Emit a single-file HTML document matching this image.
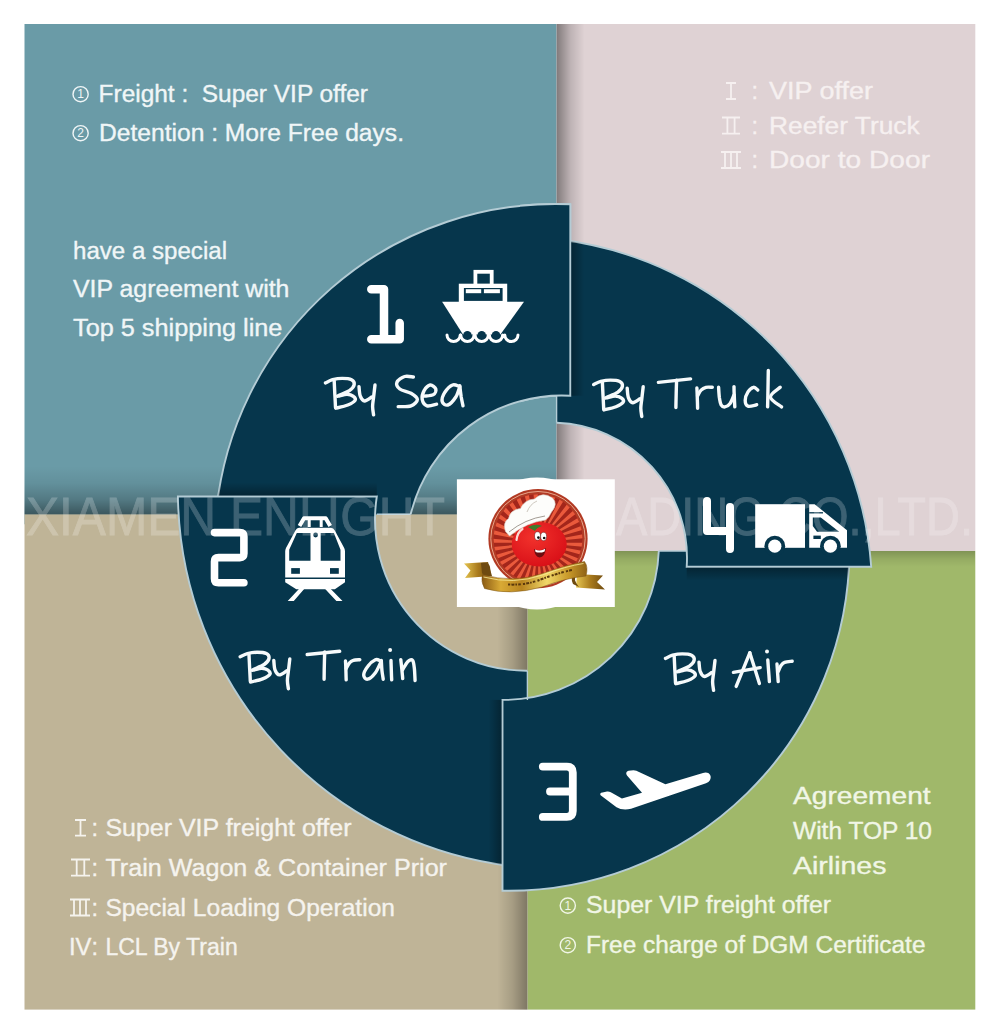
<!DOCTYPE html>
<html><head><meta charset="utf-8"><title>Shipping modes</title>
<style>
html,body{margin:0;padding:0;background:#fff;}
body{width:1000px;height:1034px;overflow:hidden;font-family:"Liberation Sans",sans-serif;}
svg{display:block;}
text{font-family:"Liberation Sans",sans-serif;}
</style></head><body>
<svg width="1000" height="1034" viewBox="0 0 1000 1034">
<defs>
<linearGradient id="shR" x1="0" x2="1" y1="0" y2="0"><stop offset="0" stop-color="#000" stop-opacity=".42"/><stop offset=".5" stop-color="#000" stop-opacity=".15"/><stop offset="1" stop-color="#000" stop-opacity="0"/></linearGradient>
<linearGradient id="shL" x1="1" x2="0" y1="0" y2="0"><stop offset="0" stop-color="#000" stop-opacity=".34"/><stop offset=".5" stop-color="#000" stop-opacity=".13"/><stop offset="1" stop-color="#000" stop-opacity="0"/></linearGradient>
<linearGradient id="shD" x1="0" x2="0" y1="0" y2="1"><stop offset="0" stop-color="#000" stop-opacity=".2"/><stop offset=".5" stop-color="#000" stop-opacity=".07"/><stop offset="1" stop-color="#000" stop-opacity="0"/></linearGradient>
<linearGradient id="shU" x1="0" x2="0" y1="1" y2="0"><stop offset="0" stop-color="#000" stop-opacity=".44"/><stop offset=".3" stop-color="#000" stop-opacity=".22"/><stop offset=".65" stop-color="#000" stop-opacity=".07"/><stop offset="1" stop-color="#000" stop-opacity="0"/></linearGradient>
<linearGradient id="tR" x1="0" x2="1" y1="0" y2="0"><stop offset="0" stop-color="#000" stop-opacity=".32"/><stop offset="1" stop-color="#000" stop-opacity="0"/></linearGradient>
<linearGradient id="tL" x1="1" x2="0" y1="0" y2="0"><stop offset="0" stop-color="#000" stop-opacity=".32"/><stop offset="1" stop-color="#000" stop-opacity="0"/></linearGradient>
<linearGradient id="tD" x1="0" x2="0" y1="0" y2="1"><stop offset="0" stop-color="#000" stop-opacity=".32"/><stop offset="1" stop-color="#000" stop-opacity="0"/></linearGradient>
<linearGradient id="tU" x1="0" x2="0" y1="1" y2="0"><stop offset="0" stop-color="#000" stop-opacity=".32"/><stop offset="1" stop-color="#000" stop-opacity="0"/></linearGradient>
<clipPath id="c1b"><rect x="520" y="0" width="70" height="470"/></clipPath>
<clipPath id="cseg3"><path d="M658.8,551.0 A154.9,154.9 0 0 1 502.5,699.9 L502.5,890.7 A341.0,341.0 0 0 0 849.4,551.0 Z"/></clipPath>
<clipPath id="cseg2"><path d="M527.4,670.7 A151.3,151.3 0 0 1 376.8,496.5 L177.9,496.5 A378.0,378.0 0 0 0 527.4,867.6 Z"/></clipPath>
<clipPath id="cseg1"><path d="M410.7,514.3 A155.4,155.4 0 0 1 570.3,395.7 L570.3,204.3 A341.2,341.2 0 0 0 216.0,514.3 Z"/></clipPath>
<clipPath id="cseg4"><path d="M556.6,422.8 A135.1,135.1 0 0 1 686.7,566.7 L871.2,566.7 A355.0,355.0 0 0 0 556.6,239.3 Z"/></clipPath>
</defs>
<rect width="1000" height="1034" fill="#fff"/>
<!-- panels -->
<rect x="24.5" y="24" width="532.1" height="500.29999999999995" fill="#6a9ba7"/>
<rect x="556.6" y="24" width="418.69999999999993" height="527.0" fill="#dfd2d4"/>
<rect x="527.4" y="551.0" width="447.9" height="458.6" fill="#a0b86a"/>
<rect x="24.5" y="514.3" width="502.9" height="495.30000000000007" fill="#bfb497"/>
<!-- shadows -->
<rect x="556.6" y="24" width="28" height="527.0" fill="url(#shR)"/>
<rect x="527.4" y="551.0" width="447.6" height="16" fill="url(#shD)"/>
<rect x="497.4" y="551.0" width="30" height="458.6" fill="url(#shL)"/>
<rect x="24.5" y="466.29999999999995" width="532.1" height="48" fill="url(#shU)"/>
<!-- segments -->
<path d="M410.7,514.3 A155.4,155.4 0 0 1 570.3,395.7 L570.3,204.3 A341.2,341.2 0 0 0 216.0,514.3" fill="#06364c" stroke="#b4ccd5" stroke-width="1.9" stroke-linejoin="miter" />
<path d="M527.4,670.7 A151.3,151.3 0 0 1 376.8,496.5 L177.9,496.5 A378.0,378.0 0 0 0 527.4,867.6" fill="#06364c" stroke="#b4ccd5" stroke-width="1.9" stroke-linejoin="miter" />
<path d="M658.8,551.0 A154.9,154.9 0 0 1 502.5,699.9 L502.5,890.7 A341.0,341.0 0 0 0 849.4,551.0" fill="#06364c" stroke="#b4ccd5" stroke-width="1.9" stroke-linejoin="miter" />
<path d="M556.6,422.8 A135.1,135.1 0 0 1 686.7,566.7 L871.2,566.7 A355.0,355.0 0 0 0 556.6,239.3" fill="#06364c" stroke="#b4ccd5" stroke-width="1.9" stroke-linejoin="miter" />
<path d="M410.7,514.3 A155.4,155.4 0 0 1 570.3,395.7 L570.3,204.3 A341.2,341.2 0 0 0 216.0,514.3" fill="#06364c" stroke="#b4ccd5" stroke-width="1.9" stroke-linejoin="miter" clip-path="url(#c1b)"/>
<rect x="686.7" y="567.7" width="184.5" height="13" fill="url(#tD)" clip-path="url(#cseg3)"/>
<rect x="571.3" y="204.3" width="13" height="191.4" fill="url(#tR)" clip-path="url(#cseg4)"/>
<rect x="177.9" y="482.5" width="198.9" height="13" fill="url(#tU)" clip-path="url(#cseg1)"/>
<rect x="488.5" y="699.9" width="13" height="190.9" fill="url(#tL)" clip-path="url(#cseg2)"/>
<path d="M556.6,395.7 V422.8 M376.8,514.3 H410.7 M527.4,670.7 V699.9 M658.8,551.0 H686.7" stroke="#b4ccd5" stroke-width="1.4" fill="none"/>
<g fill="none" stroke="#f6fafb" stroke-width="3.4" stroke-linecap="round" stroke-linejoin="round">
<path d="M334.2,381.0 C334.3,383.1 334.6,389.4 334.8,393.8 C335.1,398.2 335.4,405.1 335.5,407.4"/>
<path d="M325.4,382.9 C326.6,382.4 329.8,380.5 332.6,379.7 C335.4,379.0 339.1,378.4 342.2,378.4 C345.3,378.4 349.5,378.7 351.5,379.7 C353.5,380.7 354.5,382.7 354.2,384.5 C353.9,386.3 352.2,388.7 349.4,390.6 C346.6,392.5 337.8,395.6 337.4,396.2 C337.0,396.8 344.3,394.3 347.0,394.3 C349.7,394.3 352.1,395.3 353.4,396.4 C354.7,397.4 355.9,399.1 355.0,400.5 C354.1,402.0 351.0,403.7 347.8,405.0 C344.6,406.3 337.8,407.7 335.8,408.2"/>
<path d="M359.0,386.6 C359.2,388.2 359.3,393.8 360.3,396.2 C361.2,398.6 362.7,400.9 364.6,401.0 C366.5,401.1 370.6,397.7 371.8,397.0"/>
<path d="M375.0,385.0 C374.8,387.0 374.0,393.4 373.6,397.0 C373.2,400.6 372.6,403.6 372.6,406.6 C372.6,409.6 373.4,413.5 373.6,414.9"/>
<path d="M413.4,377.0 C411.9,376.9 407.3,375.6 404.6,376.5 C401.9,377.4 397.7,380.2 396.9,382.3 C396.1,384.4 397.5,387.2 399.8,389.0 C402.1,390.8 408.1,391.6 411.0,393.3 C413.9,395.1 417.4,397.3 417.4,399.4 C417.4,401.5 414.2,404.6 411.0,405.8 C407.8,407.0 400.3,406.5 398.2,406.6"/>
<path d="M423.8,396.2 C425.4,395.9 431.4,395.8 433.4,394.6 C435.4,393.4 436.3,390.6 435.8,389.0 C435.3,387.4 432.1,384.7 430.2,385.0 C428.3,385.3 425.5,388.2 424.1,390.6 C422.8,393.0 421.7,396.9 422.2,399.4 C422.7,401.9 424.6,405.0 427.0,405.8 C429.4,406.6 435.0,404.5 436.6,404.2"/>
<path d="M459.5,386.6 C458.3,386.3 455.0,384.1 452.6,385.0 C450.2,385.9 446.7,389.5 444.9,392.2 C443.2,394.9 441.7,399.3 442.2,401.5 C442.7,403.6 445.5,405.7 447.8,405.0 C450.1,404.3 453.8,400.1 455.8,397.0 C457.8,393.9 459.1,388.3 459.8,386.6"/>
<path d="M459.8,385.8 C460.0,387.7 460.7,393.7 461.2,397.0 C461.8,400.3 462.7,404.3 463.0,405.8"/>
<path d="M602.4,382.7 C602.5,384.8 602.8,391.1 603.0,395.5 C603.3,399.9 603.6,406.8 603.7,409.1"/>
<path d="M593.6,384.6 C594.8,384.1 598.0,382.2 600.8,381.4 C603.6,380.7 607.3,380.1 610.4,380.1 C613.5,380.1 617.7,380.4 619.7,381.4 C621.7,382.4 622.7,384.4 622.4,386.2 C622.1,388.0 620.4,390.4 617.6,392.3 C614.8,394.2 606.0,397.3 605.6,397.9 C605.2,398.5 612.5,396.0 615.2,396.0 C617.9,396.0 620.3,397.0 621.6,398.1 C622.9,399.1 624.1,400.8 623.2,402.2 C622.3,403.7 619.2,405.4 616.0,406.7 C612.8,408.0 606.0,409.4 604.0,409.9"/>
<path d="M627.2,388.3 C627.4,389.9 627.5,395.5 628.5,397.9 C629.4,400.3 630.9,402.6 632.8,402.7 C634.7,402.8 638.8,399.4 640.0,398.7"/>
<path d="M643.2,386.7 C643.0,388.7 642.2,395.1 641.8,398.7 C641.4,402.3 640.8,405.3 640.8,408.3 C640.8,411.3 641.6,415.2 641.8,416.6"/>
<path d="M658.4,382.4 L690.6,378.9"/>
<path d="M676.6,380.3 C676.5,382.5 676.3,389.0 676.2,393.6 C676.1,398.1 675.9,405.3 675.9,407.6"/>
<path d="M696.9,388.0 C697.0,389.6 697.2,394.4 697.3,397.8 C697.4,401.2 697.6,406.5 697.6,408.3"/>
<path d="M697.6,395.7 C698.2,394.8 699.7,391.5 701.1,390.1 C702.5,388.7 704.1,387.8 706.0,387.3 C707.9,386.8 711.2,387.3 712.3,387.3"/>
<path d="M718.6,387.3 C718.7,389.0 719.0,394.9 719.4,397.8 C719.9,400.7 720.2,403.3 721.1,404.8 C722.0,406.3 723.4,407.1 724.9,406.9 C726.4,406.7 728.6,405.4 730.1,403.4 C731.6,401.4 733.3,396.4 734.0,395.0"/>
<path d="M734.0,386.6 C734.0,388.2 734.1,393.0 734.3,396.4 C734.4,399.8 734.7,405.1 734.8,406.9"/>
<path d="M757.8,390.1 C757.1,389.6 755.2,387.0 753.6,387.3 C752.0,387.6 749.4,389.7 748.0,391.9 C746.6,394.1 745.2,397.9 745.2,400.3 C745.2,402.7 746.1,405.5 748.0,406.2 C749.9,406.9 755.2,405.0 756.7,404.8"/>
<path d="M768.3,370.5 C768.3,373.4 768.1,381.9 768.0,388.0 C767.9,394.1 767.7,403.7 767.6,406.9"/>
<path d="M780.2,387.3 C778.6,388.9 770.2,393.8 770.4,397.1 C770.6,400.4 779.7,405.3 781.6,406.9"/>
<path d="M249.0,654.9 C249.1,657.0 249.4,663.3 249.6,667.7 C249.9,672.1 250.2,679.0 250.3,681.3"/>
<path d="M240.2,656.8 C241.4,656.3 244.6,654.4 247.4,653.6 C250.2,652.9 253.9,652.3 257.0,652.3 C260.1,652.3 264.3,652.6 266.3,653.6 C268.3,654.6 269.3,656.6 269.0,658.4 C268.7,660.2 267.0,662.6 264.2,664.5 C261.4,666.4 252.6,669.5 252.2,670.1 C251.8,670.7 259.1,668.2 261.8,668.2 C264.5,668.2 266.9,669.2 268.2,670.3 C269.5,671.3 270.7,673.0 269.8,674.4 C268.9,675.9 265.8,677.6 262.6,678.9 C259.4,680.2 252.6,681.6 250.6,682.1"/>
<path d="M273.8,660.5 C274.0,662.1 274.1,667.7 275.1,670.1 C276.0,672.5 277.5,674.8 279.4,674.9 C281.3,675.0 285.4,671.6 286.6,670.9"/>
<path d="M289.8,658.9 C289.6,660.9 288.8,667.3 288.4,670.9 C288.0,674.5 287.4,677.5 287.4,680.5 C287.4,683.5 288.2,687.4 288.4,688.8"/>
<path d="M307.2,654.5 L339.7,651.3"/>
<path d="M324.7,651.9 C324.6,654.3 324.4,661.7 324.3,666.2 C324.2,670.8 324.1,677.0 324.1,679.2"/>
<path d="M345.5,661.0 C345.6,662.5 345.8,667.0 345.9,670.1 C346.0,673.2 346.1,678.2 346.2,679.9"/>
<path d="M346.2,668.5 C346.7,667.6 348.2,664.3 349.4,663.0 C350.6,661.6 351.6,660.9 353.3,660.4 C355.0,659.8 358.7,659.8 359.8,659.7"/>
<path d="M380.6,661.0 C379.7,660.8 377.5,658.8 375.4,659.7 C373.3,660.6 369.8,663.6 367.9,666.2 C365.9,668.8 363.7,672.9 363.7,675.0 C363.7,677.2 365.7,679.6 367.6,679.2 C369.6,678.8 373.1,675.7 375.4,672.7 C377.7,669.7 380.3,663.0 381.3,661.0"/>
<path d="M381.3,660.4 C381.4,662.0 381.6,667.0 381.9,670.1 C382.2,673.2 383.0,677.7 383.2,679.2"/>
<path d="M391.0,660.4 C391.0,662.0 391.2,666.9 391.3,670.1 C391.4,673.4 391.6,678.2 391.7,679.9"/>
<path d="M400.8,659.7 C400.9,661.2 401.5,665.7 401.8,668.8 C402.1,671.9 402.6,676.9 402.7,678.6"/>
<path d="M402.7,669.5 C403.6,668.1 406.3,662.9 407.9,661.4 C409.6,659.9 411.5,659.1 412.6,660.4 C413.7,661.6 414.0,665.4 414.4,668.8 C414.8,672.2 414.9,678.6 415.1,680.5"/>
<path d="M674.2,656.5 C674.3,658.6 674.6,664.9 674.8,669.3 C675.1,673.7 675.4,680.6 675.5,682.9"/>
<path d="M665.4,658.4 C666.6,657.9 669.8,656.0 672.6,655.2 C675.4,654.5 679.1,653.9 682.2,653.9 C685.3,653.9 689.5,654.2 691.5,655.2 C693.5,656.2 694.5,658.2 694.2,660.0 C693.9,661.8 692.2,664.2 689.4,666.1 C686.6,668.0 677.8,671.1 677.4,671.7 C677.0,672.3 684.3,669.8 687.0,669.8 C689.7,669.8 692.1,670.8 693.4,671.9 C694.7,672.9 695.9,674.6 695.0,676.0 C694.1,677.5 691.0,679.2 687.8,680.5 C684.6,681.8 677.8,683.2 675.8,683.7"/>
<path d="M699.0,662.1 C699.2,663.7 699.3,669.3 700.3,671.7 C701.2,674.1 702.7,676.4 704.6,676.5 C706.5,676.6 710.6,673.2 711.8,672.5"/>
<path d="M715.0,660.5 C714.8,662.5 714.0,668.9 713.6,672.5 C713.2,676.1 712.6,679.1 712.6,682.1 C712.6,685.1 713.4,689.0 713.6,690.4"/>
<path d="M749.8,652.8 C748.7,655.6 745.3,664.0 743.0,669.6 C740.7,675.2 737.3,683.6 736.2,686.4"/>
<path d="M749.8,652.8 C750.6,655.3 753.0,662.9 754.6,668.0 C756.2,673.1 758.6,681.0 759.4,683.6"/>
<path d="M733.4,672.4 L760.2,667.6"/>
<path d="M767.8,660.0 C767.9,661.8 768.3,667.2 768.6,670.8 C768.9,674.4 769.3,679.8 769.4,681.6"/>
<path d="M777.0,664.0 C777.1,665.5 777.4,669.9 777.6,672.8 C777.8,675.7 778.1,680.1 778.2,681.6"/>
<path d="M778.2,671.6 C778.7,670.6 779.9,667.1 781.0,665.6 C782.1,664.1 782.7,663.1 784.6,662.4 C786.5,661.7 790.9,661.4 792.2,661.2"/>
</g>
<circle cx="390.1" cy="650.0" r="2" fill="#f6fafb"/>
<circle cx="767.0" cy="651.6" r="2" fill="#f6fafb"/>
<g fill="none" stroke="#fff" stroke-linecap="round" stroke-linejoin="round">
<path d="M371.3,289.3 H384 V339.3 M371.3,339.3 H399.7 V323" stroke-width="8.5"/>
<path d="M214.5,532.6 H239.9 Q243.9,532.6 243.9,536.6 V553.6 Q243.9,557.6 239.9,557.6 H218.5 Q214.5,557.6 214.5,561.6 V578.7 Q214.5,582.7 218.5,582.7 H243.9" stroke-width="7.6"/>
<path d="M542.8,766.6 H566.8 Q572.8,766.6 572.8,772.6 V810.9 Q572.8,816.9 566.8,816.9 H542.8 M550,791.5 H572.8" stroke-width="7.8"/>
<path d="M707,501 V531 H730 M730,507 V549" stroke-width="8"/>
</g>
<g>
<rect x="475.4" y="271.8" width="16.3" height="14" fill="none" stroke="#fff" stroke-width="3.8"/>
<rect x="458.8" y="283.7" width="48.4" height="18.5" fill="#fff"/>
<rect x="463.9" y="288" width="38.7" height="12.9" fill="#06364c"/>
<rect x="465.8" y="289.2" width="15.4" height="4" fill="#fff"/><rect x="483.9" y="289.2" width="16" height="4" fill="#fff"/>
<path d="M442.1,301.8 H524 L500.4,334.5 H463 Z" fill="#fff"/>
<circle cx="453.65" cy="335.2" r="4.2" fill="#06364c"/>
<circle cx="467.4" cy="335.2" r="4.2" fill="#06364c"/>
<circle cx="481.7" cy="335.2" r="4.2" fill="#06364c"/>
<circle cx="496" cy="335.2" r="4.2" fill="#06364c"/>
<circle cx="511.4" cy="335.2" r="4.2" fill="#06364c"/>
<path d="M447.0,335 a6.2,6.2 0 0 0 13.2,0 M460.8,335 a6.2,6.2 0 0 0 13.2,0 M475.1,335 a6.2,6.2 0 0 0 13.2,0 M489.4,335 a6.2,6.2 0 0 0 13.2,0 M504.8,335 a6.2,6.2 0 0 0 13.2,0 " fill="none" stroke="#fff" stroke-width="3" stroke-linecap="round"/>
</g>
<g>
<path d="M299.5,526 L304,518.2 H325.7 L330.2,526" fill="none" stroke="#fff" stroke-width="4" stroke-linejoin="round"/>
<path d="M309.2,519 V527 M321.2,519 V527" stroke="#fff" stroke-width="3" fill="none"/>
<path d="M299,527.8 H330.7 Q333.5,527.8 334.8,530.5 L344.2,548 Q345,549.5 345,551.5 V577.6 H285.2 V551.5 Q285.2,549.5 286,548 L295.4,530.5 Q296.7,527.8 299,527.8 Z" fill="#fff"/>
<path d="M296.8,532.9 H310.5 V560.8 H289.2 V549.7 Z M320.7,532.9 H333.9 L340.5,549.7 V560.8 H320.7 Z" fill="#06364c"/>
<circle cx="315.6" cy="535" r="2.4" fill="#06364c"/>
<rect x="291.2" y="568.1" width="8.7" height="5.7" fill="#06364c"/><rect x="330" y="568.1" width="8.8" height="5.7" fill="#06364c"/>
<path d="M285.2,578.9 H345 V582.2 L334.9,589.3 H296.3 L285.2,582.2 Z" fill="#fff"/>
<path d="M299.4,588.5 H304.6 L293.8,600.9 H287.7 Z M324.7,588.5 H330.3 L342.5,600.9 H336.4 Z" fill="#fff"/>
</g>
<path d="M600.6,795.3 Q599.2,793 602.5,792.6 L607,791.5 Q609,791.2 610.8,792.3 L621.9,798.6 L642,792.7 L627,775.5 Q624.8,772.2 628.5,770.8 L633.5,770.3 Q636.5,770.3 639,772 L665.4,784.3 L703,772.9 Q709,771.6 710.6,776 Q711.6,780.8 706,783.3 L631,808.8 Q622,810.5 616.5,807.2 Z" fill="#fff"/>
<g>
<rect x="755.2" y="504.2" width="49.8" height="43.6" fill="#fff"/>
<path d="M809.2,504.2 H814.6 L847,530.2 V547.8 H809.2 Z" fill="#fff"/>
<path d="M809.2,512.8 H823" stroke="#06364c" stroke-width="1.3"/>
<path d="M812.8,517.4 H820.8 L839.2,531.8 H817 L812.8,526 Z" fill="#06364c"/>
<rect x="813.4" y="535.6" width="7.4" height="3.4" fill="#06364c"/>
<circle cx="774.8" cy="546.2" r="10.4" fill="#06364c"/>
<circle cx="830.4" cy="546.2" r="10.4" fill="#06364c"/>
<circle cx="774.8" cy="546.2" r="6.6" fill="#fff"/>
<circle cx="830.4" cy="546.2" r="6.6" fill="#fff"/>
</g>
<circle cx="80.6" cy="94.2" r="7.6" fill="none" stroke="#f0f6f7" stroke-width="1.4"/>
<text x="80.6" y="98.4" font-size="12" text-anchor="middle" fill="#f0f6f7">1</text>
<text x="98.6" y="101.8" font-size="23.5" fill="#f0f6f7" stroke="#f0f6f7" stroke-width=".35" textLength="269.4" lengthAdjust="spacingAndGlyphs"  xml:space="preserve">Freight :  Super VIP offer</text>
<circle cx="80.6" cy="133.2" r="7.6" fill="none" stroke="#f0f6f7" stroke-width="1.4"/>
<text x="80.6" y="137.39999999999998" font-size="12" text-anchor="middle" fill="#f0f6f7">2</text>
<text x="99" y="141" font-size="23.5" fill="#f0f6f7" stroke="#f0f6f7" stroke-width=".35" textLength="305.0" lengthAdjust="spacingAndGlyphs"  xml:space="preserve">Detention : More Free days.</text>
<text x="73" y="258.6" font-size="23.5" fill="#f0f6f7" stroke="#f0f6f7" stroke-width=".35" textLength="154.0" lengthAdjust="spacingAndGlyphs"  xml:space="preserve">have a special</text>
<text x="73" y="297" font-size="23.5" fill="#f0f6f7" stroke="#f0f6f7" stroke-width=".35" textLength="216.4" lengthAdjust="spacingAndGlyphs"  xml:space="preserve">VIP agreement with</text>
<text x="73" y="336.2" font-size="23.5" fill="#f0f6f7" stroke="#f0f6f7" stroke-width=".35" textLength="209.4" lengthAdjust="spacingAndGlyphs"  xml:space="preserve">Top 5 shipping line</text>
<path d="M726,83 H736 M726,99 H736 M731.0,83 V99 " stroke="#f6f0f0" stroke-width="1.8" fill="none"/>
<text x="751.5" y="99" font-size="23.5" fill="#f6f0f0" stroke="#f6f0f0" stroke-width=".35"  xml:space="preserve">:</text>
<text x="769" y="99" font-size="23.5" fill="#f6f0f0" stroke="#f6f0f0" stroke-width=".35" textLength="104.0" lengthAdjust="spacingAndGlyphs"  xml:space="preserve">VIP offer</text>
<path d="M722,117.5 H740 M722,133.6 H740 M727.4,117.5 V133.6 M734.6,117.5 V133.6 " stroke="#f6f0f0" stroke-width="1.8" fill="none"/>
<text x="751.5" y="133.6" font-size="23.5" fill="#f6f0f0" stroke="#f6f0f0" stroke-width=".35"  xml:space="preserve">:</text>
<text x="769" y="133.6" font-size="23.5" fill="#f6f0f0" stroke="#f6f0f0" stroke-width=".35" textLength="150.7" lengthAdjust="spacingAndGlyphs"  xml:space="preserve">Reefer Truck</text>
<path d="M721,152 H741 M721,168 H741 M725.0,152 V168 M731.0,152 V168 M737.0,152 V168 " stroke="#f6f0f0" stroke-width="1.8" fill="none"/>
<text x="751.5" y="168" font-size="23.5" fill="#f6f0f0" stroke="#f6f0f0" stroke-width=".35"  xml:space="preserve">:</text>
<text x="769" y="168" font-size="23.5" fill="#f6f0f0" stroke="#f6f0f0" stroke-width=".35" textLength="161.0" lengthAdjust="spacingAndGlyphs"  xml:space="preserve">Door to Door</text>
<path d="M75,820 H86 M75,835.7 H86 M80.5,820 V835.7 " stroke="#f5f3ee" stroke-width="1.8" fill="none"/>
<text x="91.5" y="835.7" font-size="23.5" fill="#f5f3ee" stroke="#f5f3ee" stroke-width=".35"  xml:space="preserve">:</text>
<text x="105.4" y="835.7" font-size="23.5" fill="#f5f3ee" stroke="#f5f3ee" stroke-width=".35" textLength="246.1" lengthAdjust="spacingAndGlyphs"  xml:space="preserve">Super VIP freight offer</text>
<path d="M71,859.5 H90 M71,875.6 H90 M76.7,859.5 V875.6 M84.3,859.5 V875.6 " stroke="#f5f3ee" stroke-width="1.8" fill="none"/>
<text x="91.5" y="875.6" font-size="23.5" fill="#f5f3ee" stroke="#f5f3ee" stroke-width=".35"  xml:space="preserve">:</text>
<text x="105.4" y="875.6" font-size="23.5" fill="#f5f3ee" stroke="#f5f3ee" stroke-width=".35" textLength="341.6" lengthAdjust="spacingAndGlyphs"  xml:space="preserve">Train Wagon &amp; Container Prior</text>
<path d="M70,899.5 H90 M70,915.5 H90 M74.0,899.5 V915.5 M80.0,899.5 V915.5 M86.0,899.5 V915.5 " stroke="#f5f3ee" stroke-width="1.8" fill="none"/>
<text x="91.5" y="915.5" font-size="23.5" fill="#f5f3ee" stroke="#f5f3ee" stroke-width=".35"  xml:space="preserve">:</text>
<text x="105.4" y="915.5" font-size="23.5" fill="#f5f3ee" stroke="#f5f3ee" stroke-width=".35" textLength="289.6" lengthAdjust="spacingAndGlyphs"  xml:space="preserve">Special Loading Operation</text>
<text x="69" y="954.6" font-size="23.5" fill="#f5f3ee" stroke="#f5f3ee" stroke-width=".35" textLength="22.5" lengthAdjust="spacingAndGlyphs"  xml:space="preserve">IV</text>
<text x="91.5" y="954.6" font-size="23.5" fill="#f5f3ee" stroke="#f5f3ee" stroke-width=".35"  xml:space="preserve">:</text>
<text x="105.4" y="954.6" font-size="23.5" fill="#f5f3ee" stroke="#f5f3ee" stroke-width=".35" textLength="132.3" lengthAdjust="spacingAndGlyphs"  xml:space="preserve">LCL By Train</text>
<text x="793" y="804.4" font-size="23.5" fill="#f1f6e6" stroke="#f1f6e6" stroke-width=".35" textLength="137.6" lengthAdjust="spacingAndGlyphs"  xml:space="preserve">Agreement</text>
<text x="793" y="839.3" font-size="23.5" fill="#f1f6e6" stroke="#f1f6e6" stroke-width=".35" textLength="139.0" lengthAdjust="spacingAndGlyphs"  xml:space="preserve">With TOP 10</text>
<text x="793" y="873.7" font-size="23.5" fill="#f1f6e6" stroke="#f1f6e6" stroke-width=".35" textLength="93.5" lengthAdjust="spacingAndGlyphs"  xml:space="preserve">Airlines</text>
<circle cx="567.8" cy="905.6" r="7.6" fill="none" stroke="#f1f6e6" stroke-width="1.4"/>
<text x="567.8" y="909.8000000000001" font-size="12" text-anchor="middle" fill="#f1f6e6">1</text>
<text x="586" y="912.8" font-size="23.5" fill="#f1f6e6" stroke="#f1f6e6" stroke-width=".35" textLength="245.0" lengthAdjust="spacingAndGlyphs"  xml:space="preserve">Super VIP freight offer</text>
<circle cx="567.8" cy="945.2" r="7.6" fill="none" stroke="#f1f6e6" stroke-width="1.4"/>
<text x="567.8" y="949.4000000000001" font-size="12" text-anchor="middle" fill="#f1f6e6">2</text>
<text x="586" y="952.7" font-size="23.5" fill="#f1f6e6" stroke="#f1f6e6" stroke-width=".35" textLength="339.5" lengthAdjust="spacingAndGlyphs"  xml:space="preserve">Free charge of DGM Certificate</text>
<circle cx="537" cy="543.5" r="66" fill="#fff"/>
<rect x="456.9" y="479.3" width="157.9" height="127.7" fill="#fff"/>
<defs>
<linearGradient id="gold" x1="0" x2="1" y1="0" y2="0"><stop offset="0" stop-color="#8a5a14"/><stop offset=".18" stop-color="#d9aa35"/><stop offset=".38" stop-color="#b8841f"/><stop offset=".62" stop-color="#f1d869"/><stop offset=".82" stop-color="#c99a2a"/><stop offset="1" stop-color="#8f6216"/></linearGradient>
<linearGradient id="gold2" x1="0" x2="1" y1="0" y2="0"><stop offset="0" stop-color="#e6c652"/><stop offset=".5" stop-color="#a97a1c"/><stop offset="1" stop-color="#6e4a10"/></linearGradient>
<radialGradient id="tom" cx=".4" cy=".35" r=".7"><stop offset="0" stop-color="#f2322c"/><stop offset="1" stop-color="#d80f17"/></radialGradient>
<clipPath id="badge"><circle cx="538" cy="538.7" r="44.5"/></clipPath>
</defs>
<circle cx="538" cy="538.7" r="49.6" fill="#b23a24"/>
<circle cx="538" cy="538.7" r="47.2" fill="none" stroke="#e8a78c" stroke-width="1"/>
<circle cx="538" cy="538.7" r="44.5" fill="#a3261b"/>
<path d="M538,542.7 L598.0,542.7 L597.8,548.0 Z M538,542.7 L597.0,553.7 L595.8,558.9 Z M538,542.7 L593.9,564.4 L591.8,569.2 Z M538,542.7 L589.0,574.3 L586.0,578.6 Z M538,542.7 L582.3,583.1 L578.6,586.9 Z M538,542.7 L574.2,590.6 L569.8,593.6 Z M538,542.7 L564.7,596.4 L559.9,598.5 Z M538,542.7 L554.4,600.4 L549.3,601.6 Z M538,542.7 L543.5,602.4 L538.3,602.7 Z M538,542.7 L532.5,602.4 L527.2,601.7 Z M538,542.7 L521.6,600.4 L516.6,598.7 Z M538,542.7 L511.3,596.4 L506.7,593.9 Z M538,542.7 L501.8,590.6 L497.8,587.2 Z M538,542.7 L493.7,583.1 L490.3,579.1 Z M538,542.7 L487.0,574.3 L484.4,569.7 Z M538,542.7 L482.1,564.4 L480.4,559.4 Z M538,542.7 L479.0,553.7 L478.3,548.5 Z M538,542.7 L478.0,542.7 L478.2,537.4 Z M538,542.7 L479.0,531.7 L480.2,526.5 Z M538,542.7 L482.1,521.0 L484.2,516.2 Z M538,542.7 L487.0,511.1 L490.0,506.8 Z M538,542.7 L493.7,502.3 L497.4,498.5 Z M538,542.7 L501.8,494.8 L506.2,491.8 Z M538,542.7 L511.3,489.0 L516.1,486.9 Z M538,542.7 L521.6,485.0 L526.7,483.8 Z M538,542.7 L532.5,483.0 L537.7,482.7 Z M538,542.7 L543.5,483.0 L548.8,483.7 Z M538,542.7 L554.4,485.0 L559.4,486.7 Z M538,542.7 L564.7,489.0 L569.3,491.5 Z M538,542.7 L574.2,494.8 L578.2,498.2 Z M538,542.7 L582.3,502.3 L585.7,506.3 Z M538,542.7 L589.0,511.1 L591.6,515.7 Z M538,542.7 L593.9,521.0 L595.6,526.0 Z M538,542.7 L597.0,531.7 L597.7,536.9 Z " fill="#ea5a3c" clip-path="url(#badge)"/>
<ellipse cx="539.2" cy="544.2" rx="27.5" ry="22.3" fill="url(#tom)"/>
<path d="M516.5,540 q1,-8 6,-11" stroke="#fbd9d2" stroke-width="2.2" fill="none" stroke-linecap="round"/>
<path d="M528,527 q8,-4 14,-1 q-6,2 -7,5 z" fill="#3f7a2a"/>
<path d="M505.5,531.5 q-3,-9 3,-13 q2,-9 12,-10 q4,-9 14,-9.5 q8,-8 18,-1 q6,6 -1,14 q-2,5 -6,8 q-18,2 -36,16 z" fill="#fdfdfb" stroke="#d9d2c8" stroke-width=".6"/>
<path d="M509,532 q16,-13 36,-16" stroke="#8b8378" stroke-width=".8" fill="none"/>
<path d="M527,512 q3,-8 10,-11" stroke="#b9b1a6" stroke-width=".7" fill="none"/>
<ellipse cx="537.5" cy="536" rx="3" ry="4.2" fill="#fff" stroke="#5b0a0a" stroke-width=".5"/><ellipse cx="543.6" cy="536.5" rx="3" ry="4.2" fill="#fff" stroke="#5b0a0a" stroke-width=".5"/>
<circle cx="538.4" cy="537.6" r="1.3" fill="#111"/><circle cx="544.2" cy="538" r="1.3" fill="#111"/>
<path d="M534,549 q6,3 12,-1 q-1,9 -6.5,9.5 q-4.5,-0.5 -5.5,-8.5 z" fill="#6d0d10"/><path d="M535,549.6 q5.5,2.3 10.2,-0.8 l-.6,2.6 q-4.5,2 -9,.6 z" fill="#fff"/>
<path d="M464,563.5 l24,-1.5 l4,14 l-27,2 l5.5,-7.5 z" fill="url(#gold2)"/>
<path d="M577,574 l26,1.5 l-6,6.5 l8,7.5 l-29,-2 z" fill="url(#gold2)"/>
<path d="M481,563 q8,-1 9,4 l1,9 q-7,1 -9,-3 z" fill="#6e4a10"/>
<path d="M577,573 q-5,6 2,14 l-6,-3 q-3,-6 1,-11 z" fill="#6e4a10"/>
<path d="M482.5,574.5 q30,9 60,-1 q25,-9 42,-12 q4,5 1.5,14.5 q-20,2 -44,11 q-32,9 -57.5,1.5 q-4,-7 -2,-14 z" fill="url(#gold)" stroke="#7a5312" stroke-width=".5"/>
<path d="M483.5,577 q30,8 59,-2 q24,-9 41,-11.5" stroke="#f8ec9c" stroke-width="1" fill="none" opacity=".8"/>
<path d="M508,584.5 q18,1 34,-5.5 q16,-6 30,-9" stroke="#5a380c" stroke-width="2" stroke-dasharray="2.2 1.1 3 1 1.6 1.2 2.6 2.2" fill="none"/>
<g font-size="53" fill="#fff" stroke="#fff" stroke-width=".8" opacity=".215"><text x="26" y="534.5" textLength="419" lengthAdjust="spacingAndGlyphs">XIAMEN ENLIGHT</text><text x="616" y="534.5" textLength="357" lengthAdjust="spacingAndGlyphs">ADING CO.,LTD.</text></g>
</svg></body></html>
